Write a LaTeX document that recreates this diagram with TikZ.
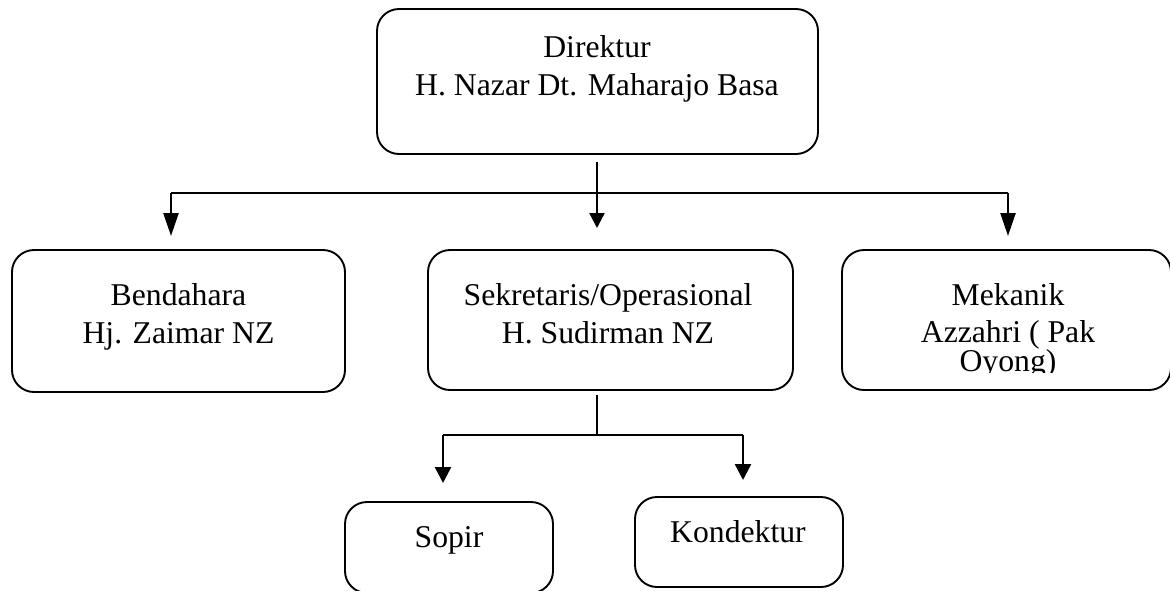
\documentclass[tikz,border=0pt]{standalone}
\usepackage{fontspec}
\setmainfont{Liberation Serif}
\usetikzlibrary{arrows.meta}
\tikzset{
  box/.style={draw, line width=1.9pt, rounded corners=22pt, inner sep=0pt, outer sep=0pt},
  txt/.style={anchor=base, inner sep=0pt, font=\fontsize{31.7}{38}\selectfont},
  conn/.style={line width=1.9pt},
  arrlong/.style={line width=2.4pt, -{Triangle[length=23pt,width=15pt]}},
  arrshort/.style={line width=2.4pt, -{Triangle[length=15pt,width=15pt]}},
  arrsub/.style={line width=2.4pt, -{Triangle[length=16pt,width=16pt]}}
}
\begin{document}
\begin{tikzpicture}[x=1pt,y=-1pt]
\useasboundingbox (0,0) rectangle (1170,590);
% boxes
\node[box, minimum width=441pt, minimum height=145pt] (dir) at (597.5,81.5) {};
\node[box, minimum width=333pt, minimum height=142pt] (ben) at (178.5,321) {};
\node[box, minimum width=365pt, minimum height=140pt] (sek) at (610.5,320) {};
\node[box, minimum width=329pt, minimum height=140pt] (mek) at (1006.5,320) {};
\node[box, minimum width=208pt, minimum height=91pt] (sop) at (449,547.5) {};
\node[box, minimum width=208pt, minimum height=90pt] (kon) at (739,542) {};
% texts
\node[txt] (dirA) at (597,57) {Direktur};
\node[txt] (dirB) at (597,95) {H. Nazar Dt. Maharajo Basa};
\node[txt] (benA) at (178.5,305) {Bendahara};
\node[txt] (benB) at (178.5,343) {Hj. Zaimar NZ};
\node[txt] (sekA) at (608,305) {Sekretaris/Operasional};
\node[txt] (sekB) at (608,343) {H. Sudirman NZ};
\node[txt] (mekA) at (1008,305) {Mekanik};
\node[txt] (mekB) at (1008,342) {Azzahri ( Pak};
\begin{scope}
  \clip (842,250) rectangle (1171,372);
  \node[txt] (mekC) at (1008,371) {Oyong)};
\end{scope}
\node[txt] (sopA) at (449,547) {Sopir};
\node[txt] (konA) at (738,542) {Kondektur};
% connector points
\coordinate (dirOut) at (597,162);
\coordinate (hL) at (171,193);
\coordinate (hR) at (1008,193);
\coordinate (tBen) at (171,236);
\coordinate (tSek) at (597,228);
\coordinate (tMek) at (1008,236);
\coordinate (sekOut) at (597,395);
\coordinate (hM) at (597,435);
\coordinate (sL) at (443,435);
\coordinate (sR) at (743,435);
\coordinate (tSop) at (443,483);
\coordinate (tKon) at (743,480);
% connectors
\draw[conn] (hL) -- (hR);
\draw[arrlong] (hL) -- (tBen);
\draw[arrlong] (hR) -- (tMek);
\draw[arrshort] (dirOut) -- (tSek);
\draw[conn] (sekOut) -- (hM);
\draw[conn] (sL) -- (sR);
\draw[arrsub] (sL) -- (tSop);
\draw[arrsub] (sR) -- (tKon);
\end{tikzpicture}
\end{document}
